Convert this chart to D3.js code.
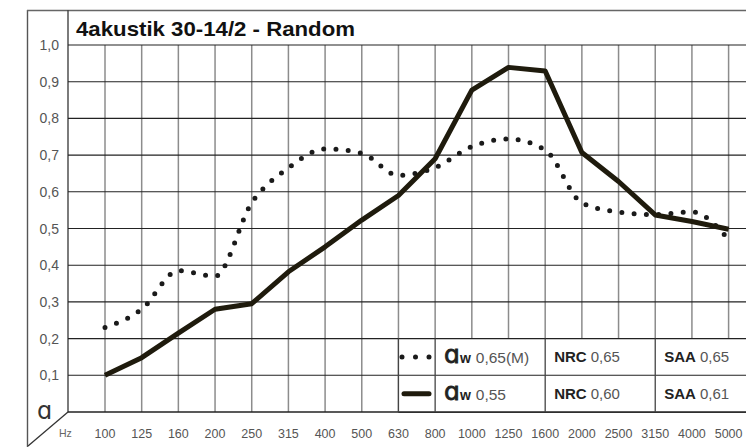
<!DOCTYPE html>
<html>
<head>
<meta charset="utf-8">
<script src="https://cdn.jsdelivr.net/npm/d3@7"></script>
<style>
  body { margin: 0; background: #fff; }
  svg { display: block; font-family: "Liberation Sans", Arial, sans-serif; }
</style>
</head>
<body>
<svg width="746" height="447"></svg>
<script>
// frequencies on the x axis
var freqs = ["100", "125", "160", "200", "250", "315", "400", "500", "630", "800",
             "1000", "1250", "1600", "2000", "2500", "3150", "4000", "5000"];
// dotted series
var dotted = [0.23, 0.28, 0.385, 0.37, 0.57, 0.665, 0.717, 0.705, 0.645, 0.666,
              0.723, 0.744, 0.714, 0.57, 0.545, 0.538, 0.545, 0.47];
// solid series
var solid = [0.10, 0.148, 0.215, 0.28, 0.295, 0.382, 0.45, 0.523, 0.59, 0.69,
             0.877, 0.939, 0.929, 0.707, 0.628, 0.537, 0.519, 0.498];
var yTicks = [0.1, 0.2, 0.3, 0.4, 0.5, 0.6, 0.7, 0.8, 0.9, 1.0];
var title = "4akustik 30-14/2 - Random";
var legendRows = [
  { style: "dot", aw: "0,65(M)", nrc: "0,65", saa: "0,65" },
  { style: "solid", aw: "0,55", nrc: "0,60", saa: "0,61" }
];

var svg = d3.select("svg");
var pLeft = 68, pRight = 746, pTop = 45, pBottom = 412;

var x = d3.scalePoint().domain(freqs).range([105, 728.6]);
var y = d3.scaleLinear().domain([0, 1]).range([pBottom, pTop]);

// frame
svg.append("line").attr("x1", 27.5).attr("x2", 27.5).attr("y1", 10).attr("y2", 447)
  .attr("stroke", "#555").attr("stroke-width", 1.4);
svg.append("line").attr("x1", 27).attr("x2", pRight).attr("y1", 10.5).attr("y2", 10.5)
  .attr("stroke", "#666").attr("stroke-width", 1.6);
svg.append("line").attr("x1", pLeft).attr("x2", pLeft).attr("y1", 10).attr("y2", pBottom)
  .attr("stroke", "#444").attr("stroke-width", 1.4);
svg.append("line").attr("x1", pLeft).attr("x2", 28).attr("y1", pBottom).attr("y2", 446)
  .attr("stroke", "#333").attr("stroke-width", 1.3);

svg.append("text").attr("x", 76).attr("y", 36)
  .attr("font-size", 21).attr("font-weight", "bold").attr("fill", "#111")
  .attr("textLength", 279).attr("lengthAdjust", "spacingAndGlyphs")
  .text(title);

// vertical grid
svg.append("g").selectAll("line").data(freqs).enter().append("line")
  .attr("x1", function(d) { return x(d); }).attr("x2", function(d) { return x(d); })
  .attr("y1", pTop).attr("y2", pBottom)
  .attr("stroke", "#8c8c8c").attr("stroke-width", 1.5);

// horizontal grid
svg.append("g").selectAll("line").data(yTicks).enter().append("line")
  .attr("x1", pLeft).attr("x2", pRight)
  .attr("y1", function(d) { return y(d); }).attr("y2", function(d) { return y(d); })
  .attr("stroke", "#222").attr("stroke-width", 1.1);
svg.append("line").attr("x1", pLeft).attr("x2", pRight).attr("y1", pBottom).attr("y2", pBottom)
  .attr("stroke", "#222").attr("stroke-width", 1.6);

// y labels
svg.append("g").selectAll("text").data(yTicks).enter().append("text")
  .attr("x", 59).attr("y", function(d) { return y(d) + 5; })
  .attr("text-anchor", "end").attr("font-size", 14).attr("fill", "#555")
  .text(function(d) { return d3.format(".1f")(d).replace(".", ","); });

// x labels
svg.append("g").selectAll("text").data(freqs).enter().append("text")
  .attr("x", function(d) { return x(d); }).attr("y", 438)
  .attr("text-anchor", "middle").attr("font-size", 12.5).attr("fill", "#555")
  .text(function(d) { return d; });
svg.append("text").attr("x", 59).attr("y", 437).attr("font-size", 10.5).attr("fill", "#666").text("Hz");
svg.append("text").attr("x", 37).attr("y", 419).attr("font-size", 24).attr("fill", "#333")
  .attr("font-family", "DejaVu Sans").text("ɑ");

// series
var lineD = d3.line()
  .x(function(d, i) { return x(freqs[i]); })
  .y(function(d) { return y(d); });
var curveD = d3.line()
  .x(function(d, i) { return x(freqs[i]); })
  .y(function(d) { return y(d); })
  .curve(d3.curveMonotoneX);

svg.append("path").datum(dotted).attr("d", curveD)
  .attr("fill", "none").attr("stroke", "#1a1a1a").attr("stroke-width", 5)
  .attr("stroke-linecap", "round").attr("stroke-dasharray", "0,12.3");
svg.append("path").datum(solid).attr("d", lineD)
  .attr("fill", "none").attr("stroke", "#1f1b0d").attr("stroke-width", 5)
  .attr("stroke-linejoin", "round");

// legend table
var lg = svg.append("g");
var rowY = [y(0.2), y(0.1), pBottom];
var cols = [x("630"), x("800"), x("1600"), x("3150")];
lg.append("rect").attr("x", cols[0]).attr("y", rowY[0]).attr("width", pRight - cols[0])
  .attr("height", pBottom - rowY[0]).attr("fill", "#fff");
rowY.forEach(function(yy) {
  lg.append("line").attr("x1", cols[0]).attr("x2", pRight).attr("y1", yy).attr("y2", yy)
    .attr("stroke", "#222").attr("stroke-width", yy === pBottom ? 1.6 : 1.1);
});
cols.forEach(function(cx) {
  lg.append("line").attr("x1", cx).attr("x2", cx).attr("y1", rowY[0]).attr("y2", pBottom)
    .attr("stroke", "#444").attr("stroke-width", 1.3);
});
legendRows.forEach(function(r, i) {
  var cy = (rowY[i] + rowY[i + 1]) / 2;
  if (r.style === "dot") {
    lg.append("line").attr("x1", 402).attr("x2", 430).attr("y1", cy).attr("y2", cy)
      .attr("stroke", "#1a1a1a").attr("stroke-width", 5).attr("stroke-linecap", "round")
      .attr("stroke-dasharray", "0,13.5");
  } else {
    lg.append("line").attr("x1", 404).attr("x2", 429).attr("y1", cy).attr("y2", cy)
      .attr("stroke", "#1f1b0d").attr("stroke-width", 5).attr("stroke-linecap", "round");
  }
  var t = lg.append("text").attr("x", 444).attr("y", cy + 6).attr("fill", "#555").attr("font-size", 15.5);
  t.append("tspan").attr("font-size", 25).attr("fill", "#222").attr("font-family", "DejaVu Sans")
    .attr("stroke", "#222").attr("stroke-width", 0.8).text("ɑ");
  t.append("tspan").attr("font-size", 14).attr("font-weight", "bold").attr("fill", "#222").attr("dx", 0).text("w");
  t.append("tspan").attr("dx", 5).text(r.aw);

  var n = lg.append("text").attr("x", cols[2] + 9).attr("y", cy + 5.5).attr("fill", "#555").attr("font-size", 15);
  n.append("tspan").attr("font-weight", "bold").attr("fill", "#222").text("NRC");
  n.append("tspan").attr("dx", 4).text(r.nrc);

  var s = lg.append("text").attr("x", cols[3] + 9).attr("y", cy + 5.5).attr("fill", "#555").attr("font-size", 15);
  s.append("tspan").attr("font-weight", "bold").attr("fill", "#222").text("SAA");
  s.append("tspan").attr("dx", 4).text(r.saa);
});
</script>
</body>
</html>
